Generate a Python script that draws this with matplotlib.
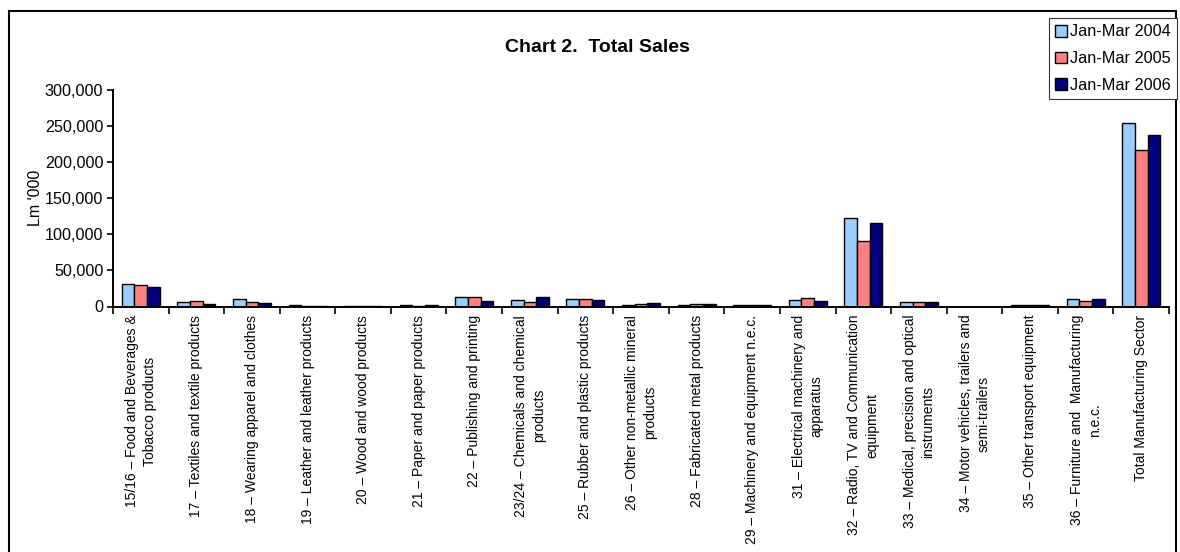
import numpy as np
import matplotlib
matplotlib.use("Agg")
import matplotlib.pyplot as plt
from matplotlib.ticker import FuncFormatter, FixedLocator
from matplotlib.patches import Rectangle

plt.rcParams['font.family'] = ['Liberation Sans', 'DejaVu Sans']

categories = [
    "15/16 \u2013 Food and Beverages &\nTobacco products",
    "17 \u2013 Textiles and textile products",
    "18 \u2013 Wearing apparel and clothes",
    "19 \u2013 Leather and leather products",
    "20 \u2013 Wood and wood products",
    "21 \u2013 Paper and paper products",
    "22 \u2013 Publishing and printing",
    "23/24 \u2013 Chemicals and chemical\nproducts",
    "25 \u2013 Rubber and plastic products",
    "26 \u2013 Other non-metallic mineral\nproducts",
    "28 \u2013 Fabricated metal products",
    "29 \u2013 Machinery and equipment n.e.c.",
    "31 \u2013 Electrical machinery and\napparatus",
    "32 \u2013 Radio, TV and Communication\nequipment",
    "33 \u2013 Medical, precision and optical\ninstruments",
    "34 \u2013 Motor vehicles, trailers and\nsemi-trailers",
    "35 \u2013 Other transport equipment",
    "36 \u2013 Furniture and  Manufacturing\nn.e.c.",
    "Total Manufacturing Sector",
]

series_names = ["Jan-Mar 2004", "Jan-Mar 2005", "Jan-Mar 2006"]
sales_2004 = [31500, 6200, 10000, 1500, 200, 1500, 12700, 8600, 10000, 2500,
              2500, 2500, 9400, 122000, 6800, 0, 2500, 10100, 253800]
sales_2005 = [29500, 7200, 5800, 1000, 100, 1000, 13000, 5800, 10000, 4000,
              4000, 2500, 11800, 90800, 6800, 0, 2000, 7300, 216800]
sales_2006 = [27600, 3900, 5500, 500, 100, 1500, 8000, 12700, 9000, 5000,
              3500, 2000, 8000, 116000, 6500, 0, 2000, 10100, 237600]
colors = ["#99CCFF", "#FF8080", "#000080"]

fig = plt.figure(figsize=(11.8, 5.52), dpi=100)
ax = fig.add_axes([113/1180, 1 - 306.5/552, (1169 - 113)/1180, (306.5 - 90)/552])

x = np.arange(len(categories))
w = 0.228
for i, (vals, c, name) in enumerate(zip([sales_2004, sales_2005, sales_2006], colors, series_names)):
    ax.bar(x + (i - 1) * w, vals, w, color=c, edgecolor="black", linewidth=1.0, label=name)

ax.set_xlim(-0.5, len(categories) - 0.5)
ax.set_ylim(0, 300000)
ax.set_yticks(np.arange(0, 300001, 50000))
ax.yaxis.set_major_formatter(FuncFormatter(lambda v, p: "{:,.0f}".format(v)))
ax.tick_params(axis="y", direction="out", length=4, width=1.2, labelsize=11.6, pad=3)

ax.set_xticks(x)
ax.set_xticklabels(categories, rotation=90, fontsize=10, ha="center", va="top",
                   linespacing=1.35)
ax.tick_params(axis="x", which="major", length=0, pad=6)
ax.xaxis.set_minor_locator(FixedLocator(np.arange(-0.5, len(categories), 1.0)))
ax.tick_params(axis="x", which="minor", direction="out", length=5, width=1.2)

for s in ["top", "right"]:
    ax.spines[s].set_visible(False)
for s in ["left", "bottom"]:
    ax.spines[s].set_linewidth(1.4)

ax.set_ylabel("Lm '000", fontsize=11.5, labelpad=1)

fig.text(597/1180, 1 - 47/552, "Chart 2.  Total Sales", ha="center", va="center",
         fontsize=14, fontweight="bold")

leg = fig.legend(loc="upper right", bbox_to_anchor=(1177/1180, 1 - 18/552),
                 fontsize=11.7, frameon=True, fancybox=False, framealpha=1,
                 edgecolor="#333333", handlelength=0.75, handleheight=0.75,
                 handletextpad=0.15, borderpad=0.4, labelspacing=0.72,
                 borderaxespad=0)
leg.get_frame().set_linewidth(0.8)

fig.patches.append(Rectangle((9/1180, -0.01), (1176 - 9)/1180, 1 - 11/552 + 0.01,
                             transform=fig.transFigure, fill=False,
                             edgecolor="black", linewidth=1.5))

fig.savefig("out.png", dpi=100)
